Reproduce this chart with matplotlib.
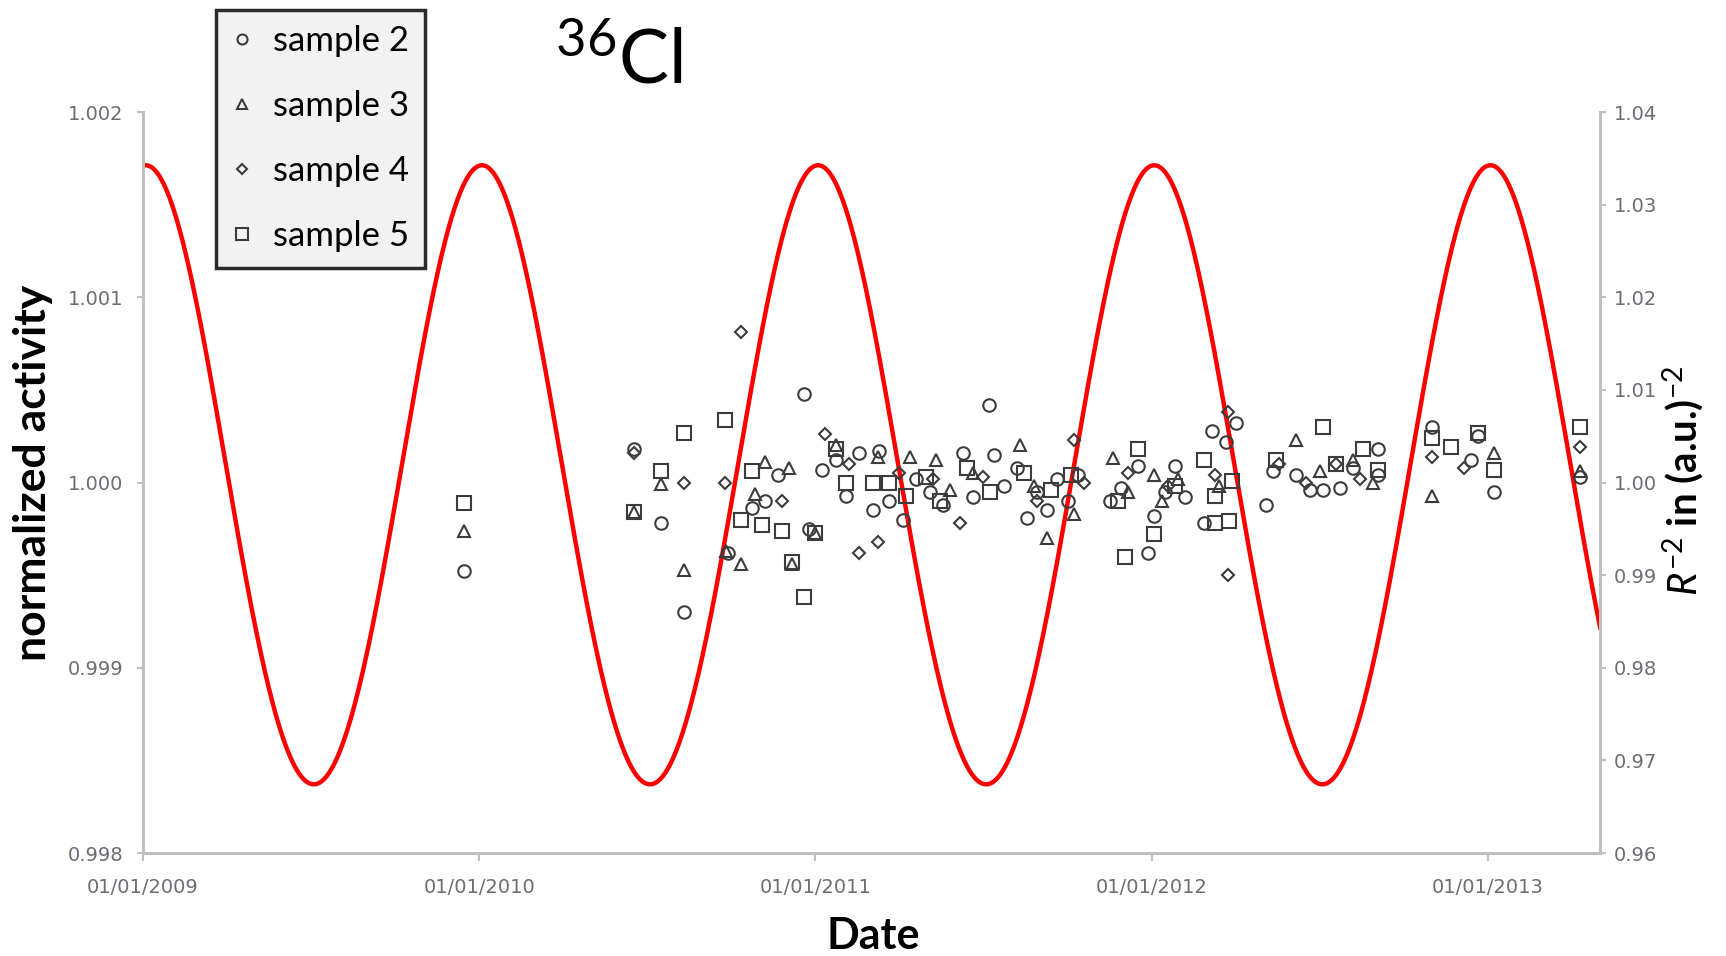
import numpy as np
import matplotlib.pyplot as plt

plt.rcParams['font.family'] = ['Lato', 'DejaVu Sans']
plt.rcParams['mathtext.fontset'] = 'custom'
plt.rcParams['mathtext.rm'] = 'Lato'
plt.rcParams['mathtext.it'] = 'Lato:italic'
plt.rcParams['mathtext.bf'] = 'Lato:bold'

# measured activity, normalized (decimal year, value)
S2_T = [2009.955, 2010.46, 2010.54, 2010.61, 2010.74, 2010.81, 2010.85, 2010.89, 2010.965, 2010.98,
        2011.02, 2011.06, 2011.09, 2011.13, 2011.17, 2011.19, 2011.22, 2011.26, 2011.30, 2011.34,
        2011.38, 2011.44, 2011.47, 2011.515, 2011.53, 2011.56, 2011.60, 2011.63, 2011.66, 2011.69,
        2011.72, 2011.75, 2011.78, 2011.875, 2011.91, 2011.96, 2011.99, 2012.006, 2012.04, 2012.07,
        2012.10, 2012.155, 2012.18, 2012.22, 2012.25, 2012.34, 2012.36, 2012.43, 2012.47, 2012.51,
        2012.56, 2012.60, 2012.675, 2012.675, 2012.835, 2012.95, 2012.97, 2013.02, 2013.275]
S2_V = [0.99952, 1.00018, 0.99978, 0.99930, 0.99962, 0.99986, 0.99990, 1.00004, 1.00048, 0.99975,
        1.00007, 1.00012, 0.99993, 1.00016, 0.99985, 1.00017, 0.99990, 0.99980, 1.00002, 0.99995,
        0.99988, 1.00016, 0.99992, 1.00042, 1.00015, 0.99998, 1.00008, 0.99981, 0.99995, 0.99985,
        1.00002, 0.99990, 1.00004, 0.99990, 0.99997, 1.00009, 0.99962, 0.99982, 0.99995, 1.00009,
        0.99992, 0.99978, 1.00028, 1.00022, 1.00032, 0.99988, 1.00006, 1.00004, 0.99996, 0.99996,
        0.99997, 1.00008, 1.00018, 1.00004, 1.00030, 1.00012, 1.00025, 0.99995, 1.00003]

S3_T = [2009.955, 2010.46, 2010.54, 2010.61, 2010.735, 2010.78, 2010.82, 2010.85, 2010.92, 2010.93,
        2011.0, 2011.06, 2011.185, 2011.28, 2011.36, 2011.40, 2011.47, 2011.61, 2011.65, 2011.69,
        2011.77, 2011.885, 2011.93, 2012.006, 2012.03, 2012.08, 2012.20, 2012.43, 2012.50, 2012.60,
        2012.66, 2012.835, 2013.02, 2013.275]
S3_V = [0.99974, 0.99984, 0.99999, 0.99953, 0.99963, 0.99956, 0.99994, 1.00011, 1.00008, 0.99956,
        0.99973, 1.00020, 1.00014, 1.00014, 1.00012, 0.99996, 1.00005, 1.00020, 0.99998, 0.99970,
        0.99983, 1.00013, 0.99995, 1.00004, 0.99990, 1.00002, 0.99998, 1.00023, 1.00006, 1.00012,
        1.00000, 0.99993, 1.00016, 1.00006]

S4_T = [2010.46, 2010.61, 2010.73, 2010.78, 2010.90, 2011.03, 2011.10, 2011.13, 2011.185, 2011.25,
        2011.35, 2011.43, 2011.50, 2011.66, 2011.77, 2011.80, 2011.93, 2012.05, 2012.19, 2012.226,
        2012.226, 2012.38, 2012.46, 2012.55, 2012.62, 2012.835, 2012.93, 2013.275]
S4_V = [1.00016, 1.00000, 1.00000, 1.00081, 0.99990, 1.00026, 1.00010, 0.99962, 0.99968, 1.00005,
        1.00002, 0.99978, 1.00003, 0.99990, 1.00023, 1.00000, 1.00005, 0.99998, 1.00004, 1.00038,
        0.99950, 1.00010, 1.00000, 1.00010, 1.00002, 1.00014, 1.00008, 1.00019]

S5_T = [2009.955, 2010.46, 2010.54, 2010.61, 2010.73, 2010.78, 2010.81, 2010.84, 2010.90, 2010.93,
        2010.965, 2011.0, 2011.06, 2011.09, 2011.17, 2011.22, 2011.27, 2011.33, 2011.37, 2011.45,
        2011.52, 2011.62, 2011.70, 2011.76, 2011.90, 2011.92, 2011.96, 2012.006, 2012.07, 2012.155,
        2012.19, 2012.19, 2012.23, 2012.24, 2012.37, 2012.51, 2012.55, 2012.63, 2012.675, 2012.835,
        2012.89, 2012.97, 2013.02, 2013.275]
S5_V = [0.99989, 0.99984, 1.00006, 1.00027, 1.00034, 0.99980, 1.00006, 0.99977, 0.99974, 0.99957,
        0.99938, 0.99973, 1.00018, 1.00000, 1.00000, 1.00000, 0.99993, 1.00003, 0.99990, 1.00008,
        0.99995, 1.00005, 0.99996, 1.00004, 0.99990, 0.99960, 1.00018, 0.99972, 0.99998, 1.00012,
        0.99993, 0.99978, 0.99979, 1.00001, 1.00012, 1.00030, 1.00010, 1.00018, 1.00007, 1.00024,
        1.00019, 1.00027, 1.00007, 1.00030]

# Earth orbit parameters for the R^-2 curve
ECC = 0.0167
PERIHELION = 2009.008   # ~4 Jan 2009
ANOM_YEAR = 365.26 / 365.25

TICK_YEARS = [2009, 2010, 2011, 2012, 2013]
TICK_LABELS = ['01/01/2009', '01/01/2010', '01/01/2011', '01/01/2012', '01/01/2013']

t = np.linspace(2009.0, 2013.34, 1500)
mean_anom = 2 * np.pi * (t - PERIHELION) / ANOM_YEAR
ecc_anom = mean_anom + ECC * np.sin(mean_anom)
r = 1 - ECC * np.cos(ecc_anom)
inv_r2 = 1 / r**2

fig = plt.figure(figsize=(17.26, 9.56), dpi=100)
ax = fig.add_axes([0.0829, 0.1077, 0.8441, 0.7751])
ax2 = ax.twinx()

spine_c = '#bfbfbf'
lab_c = '#6c6c74'
tick_font = dict(family='DejaVu Sans', size=14)

ax2.plot(t, inv_r2, color='#ff0000', lw=3.2, zorder=1)
ax2.set_ylim(0.96, 1.04)
ax2.set_yticks(np.arange(0.96, 1.0401, 0.01))
ax2.set_yticklabels(['%.2f' % v for v in np.arange(0.96, 1.0401, 0.01)], fontdict=tick_font)

# scatter on top of the curve
ax.set_zorder(ax2.get_zorder() + 1)
ax.patch.set_visible(False)
mk = dict(linestyle='none', markerfacecolor='none', markeredgecolor='#3c3c3c', markeredgewidth=1.5)
ax.plot(S2_T, S2_V, marker='o', markersize=9, label='sample 2', **mk)
ax.plot(S3_T, S3_V, marker='^', markersize=8.5, label='sample 3', **mk)
ax.plot(S4_T, S4_V, marker='D', markersize=6.5, label='sample 4', **mk)
ax.plot(S5_T, S5_V, marker='s', markersize=10, label='sample 5', **mk)

ax.set_xlim(2009.0, 2013.334)
ax.set_ylim(0.998, 1.002)
ax.set_yticks([0.998, 0.999, 1.000, 1.001, 1.002])
ax.set_yticklabels(['0.998', '0.999', '1.000', '1.001', '1.002'], fontdict=tick_font)
ax.set_xticks(TICK_YEARS)
ax.set_xticklabels(TICK_LABELS, fontdict=tick_font)

for a in (ax, ax2):
    for s in a.spines.values():
        s.set_color(spine_c)
        s.set_linewidth(2.2)
    a.spines['top'].set_visible(False)
ax.spines['right'].set_visible(False)
ax2.spines['left'].set_visible(False)
ax2.spines['bottom'].set_visible(False)

ax.tick_params(axis='y', length=4, width=1.5, color=spine_c, labelcolor=lab_c, pad=10)
ax.tick_params(axis='x', length=6, width=1.5, color=spine_c, labelcolor=lab_c, pad=12)
ax2.tick_params(axis='y', length=4, width=1.5, color=spine_c, labelcolor=lab_c, pad=6)

fig.text(0.019, 0.505, 'normalized activity', rotation=90, ha='center', va='center',
         fontsize=32, fontweight='bold')
fig.text(0.9755, 0.497, r'$\mathit{R}^{-2}$ in (a.u.)$^{-2}$', rotation=90, ha='center', va='center',
         fontsize=29, fontweight='bold')
fig.text(0.506, 0.021, 'Date', ha='center', va='center', fontsize=31, fontweight='bold')
fig.text(0.3585, 0.935, r'$^{36}$Cl', ha='center', va='center', fontsize=54)

leg = fig.legend(loc='upper left', bbox_to_anchor=(0.125, 0.99), bbox_transform=fig.transFigure,
                 borderaxespad=0, fontsize=25, labelspacing=0.95, handlelength=0.6,
                 handletextpad=0.6, borderpad=0.45, markerscale=0.8, fancybox=False)
leg.get_frame().set_facecolor('#f2f2f2')
leg.get_frame().set_edgecolor('#2b2b2b')
leg.get_frame().set_linewidth(2.5)
leg.get_frame().set_alpha(1)

fig.savefig('out.png', dpi=100)
